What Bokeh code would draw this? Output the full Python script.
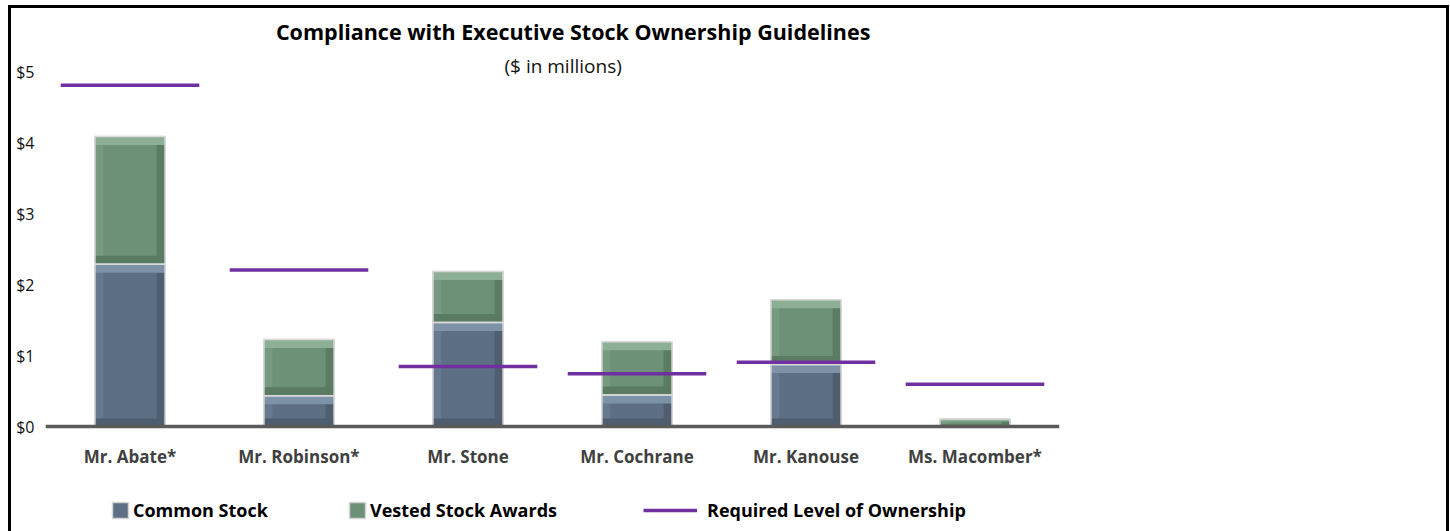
from bokeh.plotting import figure
from bokeh.models import (ColumnDataSource, FactorRange, FixedTicker, NumeralTickFormatter,
                          Label, Legend, LegendItem)
from bokeh.transform import dodge
from bokeh.embed import file_html
from bokeh.resources import INLINE

# ---- data ($ in millions) ----
names = ["Mr. Abate*", "Mr. Robinson*", "Mr. Stone", "Mr. Cochrane", "Mr. Kanouse", "Ms. Macomber*"]
common_stock = [2.29, 0.44, 1.47, 0.45, 0.88, 0.0]
vested_awards = [1.80, 0.79, 0.72, 0.75, 0.91, 0.11]
required_level = [4.81, 2.21, 0.85, 0.75, 0.91, 0.60]
y_ticks = [0, 1, 2, 3, 4, 5]

title_text = "Compliance with Executive Stock Ownership Guidelines"
subtitle_text = "($ in millions)"
legend_labels = ["Common Stock", "Vested Stock Awards", "Required Level of Ownership"]

BLUE = dict(base="#5d6f84", top="#7d91a7", bottom="#4e5e70", left="#67798e", right="#4f5f70")
GREEN = dict(base="#6c9176", top="#8daf95", bottom="#5a7b62", left="#76997f", right="#5a7c63")
PURPLE = "#7030a0"

BAR_W = 0.415
BEV_X = 0.05    # bevel width (category units)
BEV_Y = 0.12    # bevel height ($ units)

source = ColumnDataSource(dict(names=names, common=common_stock, vested=vested_awards,
                               req=required_level))

p = figure(x_range=FactorRange(*names), y_range=(-1.515, 5.836),
           width=1441, height=526, output_backend="svg", toolbar_location=None,
           min_border_left=34, min_border_right=393, min_border_top=4, min_border_bottom=0)
p.styles = {"margin-left": "8px", "margin-top": "5px",
            "border-left": "3px solid black", "border-right": "3px solid black",
            "border-top": "3px solid black"}
p.outline_line_color = None
p.grid.grid_line_color = None
p.x_range.range_padding = 0

# base stacked bars
bars = p.vbar_stack(["common", "vested"], x="names", width=BAR_W,
                    color=[BLUE["base"], GREEN["base"]], line_color="#d4d4d4",
                    line_width=1.5, source=source)

# bevel shading derived from the same data
def bevel(bottoms, heights, col):
    rows = [(n, b, h) for n, b, h in zip(names, bottoms, heights) if h > 0]
    if not rows:
        return
    ns = [r[0] for r in rows]
    bs = [r[1] for r in rows]
    ts = [r[1] + r[2] for r in rows]
    bv = [min(BEV_Y, r[2] * 0.3) for r in rows]
    src = ColumnDataSource(dict(n=ns, b=bs, t=ts,
                                tb=[t - v for t, v in zip(ts, bv)],
                                bt=[b + v for b, v in zip(bs, bv)]))
    p.vbar(x=dodge("n", -BAR_W / 2 + BEV_X / 2, range=p.x_range), width=BEV_X, bottom="b", top="t",
           fill_color=col["left"], line_color=None, source=src)
    p.vbar(x=dodge("n", BAR_W / 2 - BEV_X / 2, range=p.x_range), width=BEV_X, bottom="b", top="t",
           fill_color=col["right"], line_color=None, source=src)
    p.vbar(x="n", width=BAR_W, bottom="tb", top="t", fill_color=col["top"], line_color=None, source=src)
    p.vbar(x="n", width=BAR_W, bottom="b", top="bt", fill_color=col["bottom"], line_color=None, source=src)

bevel([0] * len(names), common_stock, BLUE)
bevel(common_stock, vested_awards, GREEN)

# outline on top
p.vbar_stack(["common", "vested"], x="names", width=BAR_W, fill_alpha=0,
             line_color="#d9d9d9", line_width=1.5, source=source)

line_r = p.segment(x0=dodge("names", -0.41, range=p.x_range), x1=dodge("names", 0.41, range=p.x_range),
                   y0="req", y1="req", line_color=PURPLE, line_width=3.5, source=source)

# axes
p.yaxis.ticker = FixedTicker(ticks=y_ticks)
p.yaxis.formatter = NumeralTickFormatter(format="$0")
p.yaxis.axis_line_color = None
p.yaxis.major_tick_line_color = None
p.yaxis.minor_tick_line_color = None
p.yaxis.major_label_standoff = 5
p.yaxis.major_label_text_font = "Open Sans"
p.yaxis.major_label_text_font_size = "16px"
p.yaxis.major_label_text_color = "#111111"

p.xaxis.fixed_location = 0
p.xaxis.axis_line_color = "#5a5a5a"
p.xaxis.axis_line_width = 3.5
p.xaxis.major_tick_line_color = None
p.xaxis.minor_tick_line_color = None
p.xaxis.major_label_standoff = 12
p.xaxis.major_label_text_font = "Open Sans"
p.xaxis.major_label_text_font_style = "bold"
p.xaxis.major_label_text_font_size = "17px"
p.xaxis.major_label_text_color = "#404040"

# titles
p.add_layout(Label(x=3.122, y=5.567, text=title_text, text_align="center", text_baseline="middle",
                   text_font="Open Sans", text_font_style="bold", text_font_size="21.5px",
                   text_color="#000000"))
p.add_layout(Label(x=3.063, y=5.085, text=subtitle_text, text_align="center", text_baseline="middle",
                   text_font="Open Sans", text_font_size="19px", text_color="#111111"))

# legends
def make_legend(label, rend, loc, gw, standoff):
    lg = Legend(items=[LegendItem(label=label, renderers=[rend])], location=loc,
                orientation="horizontal", padding=0, margin=0, spacing=0,
                glyph_width=gw, glyph_height=20, label_standoff=standoff,
                border_line_color=None, background_fill_alpha=0,
                label_text_font="Open Sans", label_text_font_style="bold",
                label_text_font_size="18px", label_text_color="#000000")
    p.add_layout(lg, "center")

make_legend(legend_labels[0], bars[0], (65, 12), 20, 3)
make_legend(legend_labels[1], bars[1], (302, 12), 20, 3)
make_legend(legend_labels[2], line_r, (598, 12), 54, 10)

open("out.html", "w").write(file_html(p, INLINE))
